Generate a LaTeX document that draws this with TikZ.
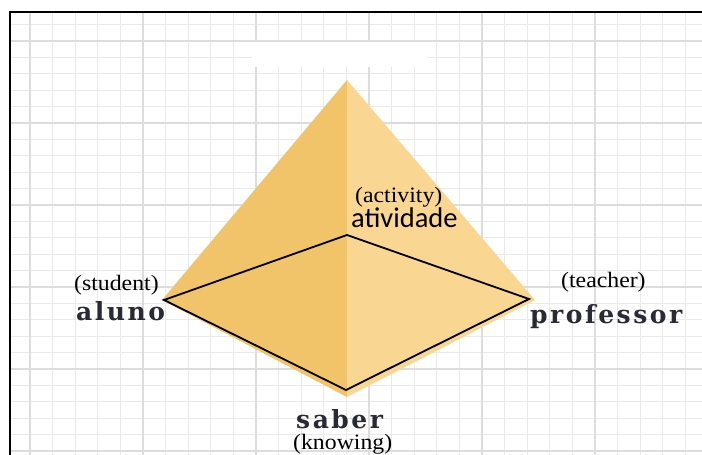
\documentclass[tikz,border=0pt]{standalone}
\usepackage{fontspec}
\newfontfamily\tmsfont[FakeStretch=1.08]{Liberation Serif}
\newfontfamily\calfont{Carlito}
\newfontfamily\dvsfont[LetterSpace=10]{DejaVu Serif}
\definecolor{leftface}{HTML}{F1C46A}
\definecolor{rightface}{HTML}{F9D792}
\definecolor{gridminor}{HTML}{EAEAEA}
\definecolor{gridmajor}{HTML}{DDDDDD}
\definecolor{labelink}{HTML}{2A2A35}
\begin{document}
\begin{tikzpicture}[x=1pt,y=-1pt,
  eng/.style={font=\tmsfont\fontsize{22}{26}\selectfont, inner sep=0pt, anchor=base west, text=black},
  por/.style={font=\dvsfont\bfseries\fontsize{25}{30}\selectfont, inner sep=0pt, anchor=base west, text=labelink},
  actlabel/.style={font=\calfont\fontsize{28.5}{32}\selectfont, inner sep=0pt, anchor=base west, text=black},
  minorline/.style={draw=gridminor, line width=1.2pt},
  majorline/.style={draw=gridmajor, line width=1.3pt},
  edgeline/.style={draw=black, line width=1.8pt, line join=miter}]
\useasboundingbox (0,0) rectangle (702,455);
\fill[white] (0,0) rectangle (702,455);
% grid
\foreach \k in {0,...,29}{
  \pgfmathsetmacro\xx{30+22.6*\k}
  \draw[minorline] (\xx,12) -- (\xx,455);
}
\foreach \k in {0,...,26}{
  \pgfmathsetmacro\yy{24.6+16.4*\k}
  \draw[minorline] (10,\yy) -- (702,\yy);
}
\foreach \xx in {30,143,256,369,482,595}{
  \draw[majorline] (\xx,12) -- (\xx,455);
}
\foreach \yy in {41,123,205,287,369,451}{
  \draw[majorline] (10,\yy) -- (702,\yy);
}
% white patch at top
\fill[white] (252,42) rectangle (427,67);
% frame
\draw[black, line width=1.6pt] (10,455) -- (10,12) -- (702,12);
% pyramid faces
\coordinate (apex) at (347,80);
\coordinate (fl) at (162,300);
\coordinate (fr) at (535,300);
\coordinate (fb) at (347,397);
\fill[leftface] (apex) -- (fl) -- (fb) -- cycle;
\fill[rightface] (apex) -- (fr) -- (fb) -- cycle;
% base quadrilateral
\coordinate (al) at (164,300);
\coordinate (ac) at (347,235);
\coordinate (pr) at (529,299);
\coordinate (sb) at (346,390);
\draw[edgeline] (al) -- (ac) -- (pr) -- (sb) -- cycle;
% labels
\node[eng] (activity) at (355,202) {(activity)};
\node[actlabel] (atividade) at (351,227) {atividade};
\node[eng] (student) at (74,290) {(student)};
\node[por] (aluno) at (76,320) {aluno};
\node[eng] (teacher) at (561,287) {(teacher)};
\node[por] (professor) at (530,323) {professor};
\node[por] (saber) at (296,428) {saber};
\node[eng] (knowing) at (293,449) {(knowing)};
\end{tikzpicture}
\end{document}
